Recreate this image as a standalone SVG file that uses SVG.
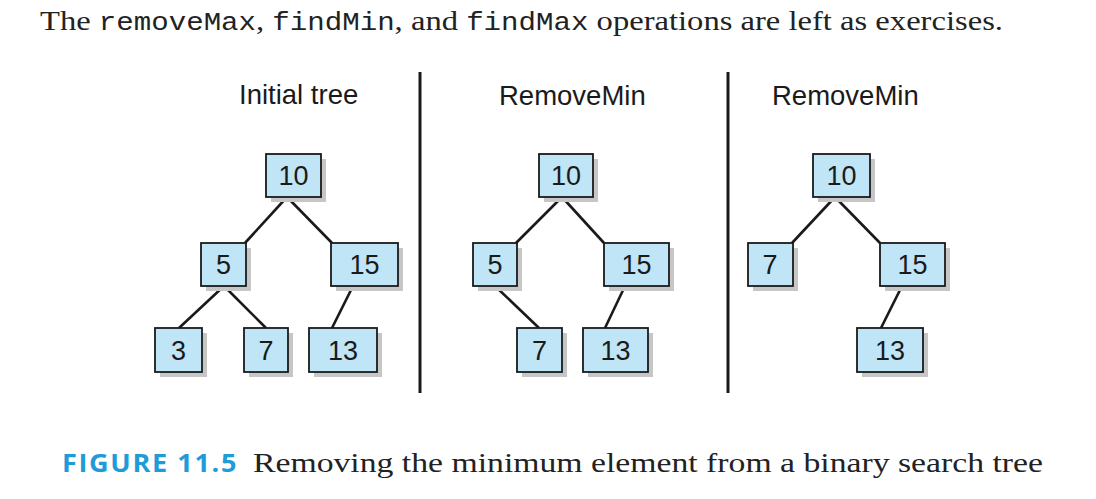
<svg xmlns="http://www.w3.org/2000/svg" width="1096" height="499" viewBox="0 0 1096 499">
<style>
.bg{fill:#ffffff}
.box{fill:#bfe5f7;stroke:#1a1a1a;stroke-width:1.8}
.sh{fill:#c6c6c6}
.num{font-family:"Liberation Sans",Arial,sans-serif;font-size:27px;fill:#1a1a1a;text-anchor:middle}
.title{font-family:"Liberation Sans",Arial,sans-serif;font-size:27.5px;fill:#1a1a1a}
.edge{stroke:#1a1a1a;stroke-width:2.6;fill:none}
.div{stroke:#1a1a1a;stroke-width:3}
.serif{font-family:"Liberation Serif","Times New Roman",serif;font-size:28px;fill:#222}
.mono{font-family:"Liberation Mono","Courier New",monospace;font-size:25px}
.fig{font-family:"Open Sans","Liberation Sans",sans-serif;font-weight:bold;font-size:25px;fill:#1f9bd7;letter-spacing:1.5px}
</style>
<rect class="bg" x="0" y="0" width="1096" height="499"/>
<text class="serif" x="40" y="30" textLength="963" lengthAdjust="spacingAndGlyphs">The <tspan class="mono">removeMax</tspan>, <tspan class="mono">findMin</tspan>, and <tspan class="mono">findMax</tspan> operations are left as exercises.</text>

<g id="dividers">
<line class="div" x1="420" y1="72" x2="420" y2="393"/>
<line class="div" x1="728" y1="72" x2="728" y2="393"/>
</g>

<text class="title" x="239" y="104">Initial tree</text>
<text class="title" x="499" y="105">RemoveMin</text>
<text class="title" x="772" y="105">RemoveMin</text>

<g id="connectors">
<line class="edge" x1="287" y1="197" x2="245" y2="243"/>
<line class="edge" x1="287" y1="197" x2="332" y2="243"/>
<line class="edge" x1="224" y1="286" x2="179" y2="328"/>
<line class="edge" x1="224" y1="286" x2="266" y2="328"/>
<line class="edge" x1="353" y1="286" x2="332" y2="328"/>

<line class="edge" x1="562" y1="197" x2="516" y2="243"/>
<line class="edge" x1="562" y1="197" x2="604" y2="243"/>
<line class="edge" x1="495" y1="286" x2="539" y2="328"/>
<line class="edge" x1="625" y1="286" x2="605" y2="328"/>

<line class="edge" x1="835" y1="197" x2="792" y2="243"/>
<line class="edge" x1="835" y1="197" x2="880" y2="243"/>
<line class="edge" x1="902" y1="286" x2="881" y2="328"/>
</g>

<g id="t1-10"><rect class="sh" x="271" y="159" width="55" height="43"/><rect class="box" x="266" y="154" width="55" height="43"/><text class="num" x="293.5" y="185">10</text></g>
<g id="t1-5"><rect class="sh" x="206" y="248" width="45" height="43"/><rect class="box" x="201" y="243" width="45" height="43"/><text class="num" x="223.5" y="274">5</text></g>
<g id="t1-15"><rect class="sh" x="336" y="248" width="67" height="43"/><rect class="box" x="331" y="243" width="67" height="43"/><text class="num" x="364.5" y="274">15</text></g>
<g id="t1-3"><rect class="sh" x="160" y="333" width="47" height="44"/><rect class="box" x="155" y="328" width="47" height="44"/><text class="num" x="178.5" y="360">3</text></g>
<g id="t1-7"><rect class="sh" x="249" y="333" width="44" height="44"/><rect class="box" x="244" y="328" width="44" height="44"/><text class="num" x="266" y="360">7</text></g>
<g id="t1-13"><rect class="sh" x="314" y="333" width="68" height="44"/><rect class="box" x="309" y="328" width="68" height="44"/><text class="num" x="343" y="360">13</text></g>

<g id="t2-10"><rect class="sh" x="544" y="159" width="54" height="43"/><rect class="box" x="539" y="154" width="54" height="43"/><text class="num" x="566" y="185">10</text></g>
<g id="t2-5"><rect class="sh" x="478" y="248" width="44" height="43"/><rect class="box" x="473" y="243" width="44" height="43"/><text class="num" x="495" y="274">5</text></g>
<g id="t2-15"><rect class="sh" x="609" y="248" width="65" height="43"/><rect class="box" x="604" y="243" width="65" height="43"/><text class="num" x="636.5" y="274">15</text></g>
<g id="t2-7"><rect class="sh" x="522" y="333" width="45" height="44"/><rect class="box" x="517" y="328" width="45" height="44"/><text class="num" x="539.5" y="360">7</text></g>
<g id="t2-13"><rect class="sh" x="588" y="333" width="65" height="44"/><rect class="box" x="583" y="328" width="65" height="44"/><text class="num" x="615.5" y="360">13</text></g>

<g id="t3-10"><rect class="sh" x="818" y="159" width="57" height="43"/><rect class="box" x="813" y="154" width="57" height="43"/><text class="num" x="841.5" y="185">10</text></g>
<g id="t3-7"><rect class="sh" x="753" y="248" width="45" height="43"/><rect class="box" x="748" y="243" width="45" height="43"/><text class="num" x="770" y="274">7</text></g>
<g id="t3-15"><rect class="sh" x="885" y="248" width="65" height="43"/><rect class="box" x="880" y="243" width="65" height="43"/><text class="num" x="912.5" y="274">15</text></g>
<g id="t3-13"><rect class="sh" x="862" y="333" width="66" height="44"/><rect class="box" x="857" y="328" width="66" height="44"/><text class="num" x="890" y="360">13</text></g>

<text x="62" y="472"><tspan class="fig" textLength="176" lengthAdjust="spacingAndGlyphs">FIGURE 11.5</tspan></text>
<text class="serif" x="253" y="472" textLength="790" lengthAdjust="spacingAndGlyphs">Removing the minimum element from a binary search tree</text>
</svg>
